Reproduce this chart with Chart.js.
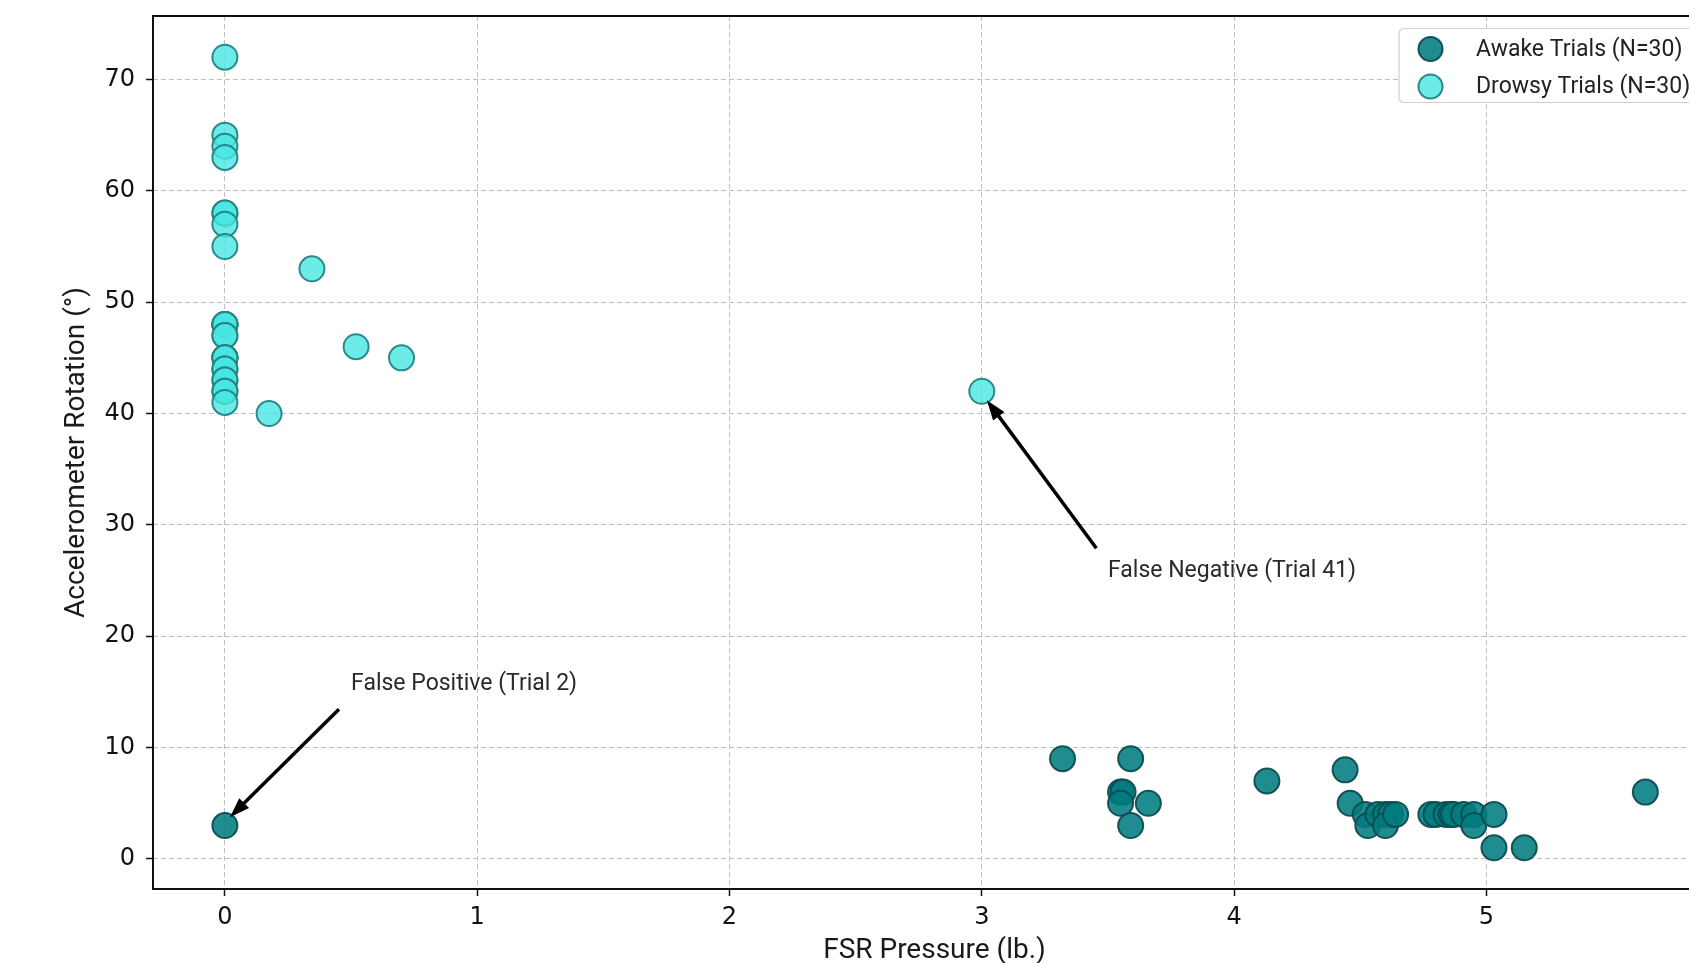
<!DOCTYPE html>
<html>
<head>
<meta charset="utf-8">
<script src="https://cdn.jsdelivr.net/npm/chart.js@4"></script>
<style>
  html, body { margin: 0; padding: 0; background: #ffffff; overflow: hidden; width: 1689px; height: 963px; }
  #wrap { position: absolute; left: 0; top: 0; width: 1760px; height: 1000px; }
</style>
</head>
<body>
<div id="wrap"><canvas id="c" width="1760" height="1000"></canvas></div>
<script>
// Awake trials: FSR pressure (lb.) and accelerometer rotation (deg)
const awakeX = [0, 3.32, 3.59, 3.55, 3.56, 3.55, 3.66, 3.59, 4.13, 4.44, 4.46, 4.52, 4.53, 4.57, 4.60,
                4.62, 4.60, 4.64, 4.78, 4.80, 4.84, 4.86, 4.87, 4.91, 4.95, 4.95, 5.03, 5.03, 5.15, 5.63];
const awakeY = [3, 9, 9, 6, 6, 5, 5, 3, 7, 8, 5, 4, 3, 4, 4,
                4, 3, 4, 4, 4, 4, 4, 4, 4, 4, 3, 4, 1, 1, 6];

// Drowsy trials
const drowsyX = [0, 0, 0, 0, 0, 0, 0, 0, 0, 0, 0, 0, 0, 0, 0, 0, 0, 0, 0, 0, 0, 0, 0, 0, 0,
                 0.345, 0.52, 0.70, 0.175, 3.0];
const drowsyY = [72, 65, 64, 63, 58, 58, 57, 55, 48, 48, 48, 48, 47, 47, 45, 45, 45, 45, 44, 44, 43, 43, 42, 42, 41,
                 53, 46, 45, 40, 42];

const seriesLabels = ['Awake Trials (N=30)', 'Drowsy Trials (N=30)'];

// Axis ticks and ranges
const xTickValues = [0, 1, 2, 3, 4, 5];
const yTickValues = [0, 10, 20, 30, 40, 50, 60, 70];
const xRange = [-0.285, 5.91];
const yRange = [-2.7, 75.7];

// Annotations: label text, label anchor, arrow tail, arrow tip (data units)
const noteTexts = ['False Positive (Trial 2)', 'False Negative (Trial 41)'];
const noteTextX = [0.50, 3.50];
const noteTextY = [15.7, 25.8];
const noteTailX = [0.452, 3.454];
const noteTailY = [13.45, 27.9];
const noteTipX  = [0.02, 3.02];
const noteTipY  = [3.75, 41.2];

const AWAKE_FILL = 'rgba(0,124,128,0.88)';
const AWAKE_EDGE = 'rgba(14,76,80,0.95)';
const DROWSY_FILL = 'rgba(72,230,226,0.8)';
const DROWSY_EDGE = 'rgba(34,132,132,0.95)';

const toPoints = (xs, ys) => xs.map((x, i) => ({ x: x, y: ys[i] }));

const frameNotesLegend = {
  id: 'frameNotesLegend',
  afterDatasetsDraw(chart) {
    const ctx = chart.ctx;
    const a = chart.chartArea;
    const sx = chart.scales.x, sy = chart.scales.y;
    ctx.save();
    // axes frame
    ctx.strokeStyle = '#111';
    ctx.lineWidth = 2;
    ctx.setLineDash([]);
    ctx.strokeRect(a.left, a.top, a.right - a.left, a.bottom - a.top);

    // annotations
    noteTexts.forEach((t, i) => {
      const x0 = sx.getPixelForValue(noteTailX[i]), y0 = sy.getPixelForValue(noteTailY[i]);
      const x1 = sx.getPixelForValue(noteTipX[i]), y1 = sy.getPixelForValue(noteTipY[i]);
      const ang = Math.atan2(y1 - y0, x1 - x0);
      const headLen = 20, headHalf = 7;
      const bx = x1 - headLen * Math.cos(ang), by = y1 - headLen * Math.sin(ang);
      ctx.strokeStyle = '#000';
      ctx.fillStyle = '#000';
      ctx.lineWidth = 3.5;
      ctx.lineCap = 'butt';
      ctx.beginPath();
      ctx.moveTo(x0, y0);
      ctx.lineTo(bx + 2 * Math.cos(ang), by + 2 * Math.sin(ang));
      ctx.stroke();
      ctx.beginPath();
      ctx.moveTo(x1, y1);
      ctx.lineTo(bx + headHalf * Math.sin(ang), by - headHalf * Math.cos(ang));
      ctx.lineTo(bx - headHalf * Math.sin(ang), by + headHalf * Math.cos(ang));
      ctx.closePath();
      ctx.fill();

      ctx.font = '23px Roboto, "Noto Sans", sans-serif';
      ctx.fillStyle = '#2a2a2a';
      ctx.textAlign = 'left';
      ctx.textBaseline = 'middle';
      ctx.fillText(t, sx.getPixelForValue(noteTextX[i]), sy.getPixelForValue(noteTextY[i]));
    });
    ctx.restore();
  },
  afterDraw(chart) {
    const ctx = chart.ctx;
    const a = chart.chartArea;
    const ds = chart.data.datasets;
    const left = a.right - 317, top = a.top + 12.5, w = 307, h = 74;
    ctx.save();
    ctx.fillStyle = '#ffffff';
    ctx.strokeStyle = '#cfcfcf';
    ctx.lineWidth = 1.2;
    ctx.beginPath();
    ctx.roundRect(left, top, w, h, 5);
    ctx.fill();
    ctx.stroke();
    ds.forEach((d, i) => {
      const cy = top + 20.5 + i * 37.5;
      ctx.beginPath();
      ctx.arc(left + 31.5, cy, 12, 0, Math.PI * 2);
      ctx.fillStyle = d.backgroundColor;
      ctx.fill();
      ctx.lineWidth = 2;
      ctx.strokeStyle = d.borderColor;
      ctx.stroke();
      ctx.font = '23px Roboto, "Noto Sans", sans-serif';
      ctx.fillStyle = '#222';
      ctx.textAlign = 'left';
      ctx.textBaseline = 'middle';
      ctx.fillText(d.label, left + 77, cy + 1);
    });
    ctx.restore();
  }
};

const gridStyle = {
  color: '#bfbfbf',
  lineWidth: 1,
  drawTicks: true,
  tickLength: 7,
  tickColor: '#111',
  tickWidth: 1.5,
  tickBorderDash: []
};

// keep the plot box fixed: no automatic label overhang padding
const noOverhang = (s) => { s.paddingTop = 0; s.paddingBottom = 0; s.paddingLeft = 0; s.paddingRight = 0; };

new Chart(document.getElementById('c'), {
  type: 'scatter',
  data: {
    datasets: [
      {
        label: seriesLabels[0],
        data: toPoints(awakeX, awakeY),
        backgroundColor: AWAKE_FILL,
        borderColor: AWAKE_EDGE,
        borderWidth: 2,
        pointRadius: 12.5,
        pointHoverRadius: 12.5
      },
      {
        label: seriesLabels[1],
        data: toPoints(drowsyX, drowsyY),
        backgroundColor: DROWSY_FILL,
        borderColor: DROWSY_EDGE,
        borderWidth: 2,
        pointRadius: 12.5,
        pointHoverRadius: 12.5
      }
    ]
  },
  options: {
    responsive: false,
    animation: false,
    events: [],
    layout: { padding: { left: 0, top: 16, right: 44, bottom: 0 } },
    plugins: {
      legend: { display: false },
      tooltip: { enabled: false }
    },
    scales: {
      x: {
        type: 'linear',
        min: xRange[0],
        max: xRange[1],
        afterBuildTicks: (s) => { s.ticks = xTickValues.map(v => ({ value: v })); },
        afterFit: (s) => { s.height = 111; noOverhang(s); },
        grid: gridStyle,
        border: { display: false, dash: [5, 3] },
        ticks: {
          padding: 7,
          color: '#111',
          font: { family: '"DejaVu Sans", sans-serif', size: 24 },
          callback: (v) => String(v)
        },
        title: {
          display: true,
          text: 'FSR Pressure (lb.)',
          color: '#1a1a1a',
          font: { family: 'Roboto, sans-serif', size: 28 },
          padding: { top: 0, bottom: 32 }
        }
      },
      y: {
        type: 'linear',
        min: yRange[0],
        max: yRange[1],
        afterBuildTicks: (s) => { s.ticks = yTickValues.map(v => ({ value: v })); },
        afterFit: (s) => { s.width = 153; noOverhang(s); },
        grid: gridStyle,
        border: { display: false, dash: [5, 3] },
        ticks: {
          padding: 11,
          color: '#111',
          font: { family: '"DejaVu Sans", sans-serif', size: 24 },
          callback: (v) => String(v)
        },
        title: {
          display: true,
          text: 'Accelerometer Rotation (°)',
          color: '#1a1a1a',
          font: { family: 'Roboto, sans-serif', size: 28 },
          padding: { top: 60, bottom: 0 }
        }
      }
    }
  },
  plugins: [frameNotesLegend]
});
</script>
</body>
</html>
